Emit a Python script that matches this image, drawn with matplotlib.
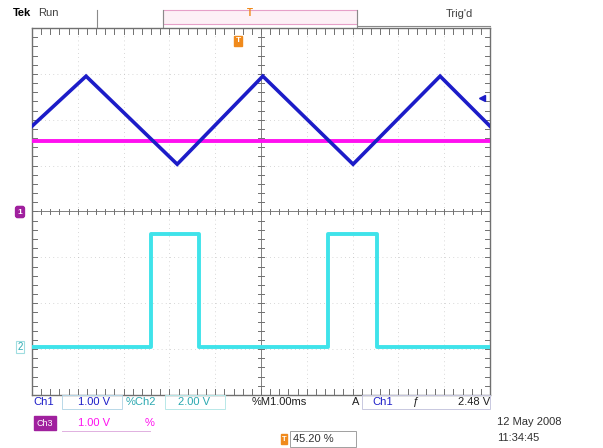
import matplotlib
matplotlib.use("Agg")
import matplotlib.pyplot as plt
from matplotlib.patches import Rectangle

plt.rcParams['font.family'] = ['Liberation Sans', 'DejaVu Sans']

# scope traces, in graticule divisions (x: 1 ms/div, y: divisions)
ch1_t = [-5.0, -3.82, -1.83, 0.04, 2.01, 3.91, 5.0]
ch1_v = [1.86, 2.95, 1.03, 2.95, 1.03, 2.95, 1.86]

ref_t = [-5.0, 5.0]
ref_v = [1.53, 1.53]

ch2_t = [-5.0, -2.40, -1.35, 1.46, 2.53, 5.0]
ch2_v = [-2.95, -0.49, -2.95, -0.49, -2.95, -2.95]

ch1_gnd = 0.0
ch2_gnd = -2.95
trig_level = 2.47
trig_pos = -0.5

BLUE = "#1c1cc8"
MAG = "#ff10f0"
CYAN = "#3fe3ea"
PURP = "#a0209e"
ORANGE = "#f08a1c"
GRID = "#a8a8a8"

W, H = 603, 448
fig = plt.figure(figsize=(W / 100, H / 100), dpi=100)
fig.patch.set_facecolor("white")


def fx(px):
    return px / W


def fy(py):
    return 1 - py / H


ax = fig.add_axes([fx(32), fy(395), fx(490) - fx(32), fy(28) - fy(395)])
ax.set_xlim(-5, 5)
ax.set_ylim(-4, 4)
ax.set_xticks([])
ax.set_yticks([])
for s in ax.spines.values():
    s.set_color("#707070")
    s.set_linewidth(1.0)

# graticule: dotted grid + minor ticks on centre lines and border
for gx in range(-4, 5):
    ax.axvline(gx, color=GRID, lw=0.6, ls=(0, (1, 4)), alpha=0.6, zorder=1)
for gy in range(-3, 4):
    ax.axhline(gy, color=GRID, lw=0.6, ls=(0, (1, 4)), alpha=0.6, zorder=1)
ax.axvline(ch1_gnd, color="#808080", lw=0.7, zorder=1)
ax.axhline(ch1_gnd, color="#808080", lw=0.7, zorder=1)
for i in range(-25, 26):
    t = i / 5
    ax.plot([t, t], [-0.06, 0.06], color="#707070", lw=0.7, zorder=1)
    ax.plot([t, t], [-4, -3.88], color="#707070", lw=0.7, zorder=1)
    ax.plot([t, t], [4, 3.88], color="#707070", lw=0.7, zorder=1)
for i in range(-20, 21):
    t = i / 5
    ax.plot([-0.06, 0.06], [t, t], color="#707070", lw=0.7, zorder=1)
    ax.plot([-5, -4.88], [t, t], color="#707070", lw=0.7, zorder=1)
    ax.plot([5, 4.88], [t, t], color="#707070", lw=0.7, zorder=1)

ax.plot(ch1_t, ch1_v, color=BLUE, lw=2.6, solid_joinstyle="miter", zorder=4)
ax.plot(ref_t, ref_v, color=MAG, lw=2.8, zorder=3)
ax.plot(ch2_t, ch2_v, color=CYAN, lw=2.8, drawstyle="steps-post", zorder=3)

# trigger level arrow on the right, trigger position marker on top
ax.plot([4.82], [trig_level], marker="<", color=BLUE, ms=4, zorder=5)
ax.text(trig_pos, 3.72, "T", color="white", fontsize=6, fontweight="bold",
        ha="center", va="center", zorder=6,
        bbox=dict(boxstyle="square,pad=0.15", fc=ORANGE, ec=ORANGE))

# channel ground markers on the left
fig.text(fx(20), fy(212), "1", color="white", fontsize=6, fontweight="bold",
         ha="center", va="center",
         bbox=dict(boxstyle="round,pad=0.25", fc=PURP, ec=PURP))
fig.text(fx(20), fy(347), "2", color="#2aa8b0", fontsize=7,
         ha="center", va="center",
         bbox=dict(boxstyle="square,pad=0.15", fc="white", ec="#a0dde0", lw=0.8))

# header
fig.text(fx(13), fy(13), "Tek", fontsize=8, fontweight="bold", va="center")
fig.text(fx(38), fy(13), "Run", fontsize=8, color="#404040", va="center")
line_kw = dict(color="#8a8a8a", lw=0.8)
fig.add_artist(plt.Line2D([fx(97), fx(97)], [fy(10), fy(27)], **line_kw))
fig.add_artist(plt.Line2D([fx(163), fx(163)], [fy(10), fy(27)], **line_kw))
fig.add_artist(plt.Line2D([fx(357), fx(357)], [fy(10), fy(27)], **line_kw))
fig.add_artist(Rectangle((fx(163), fy(24)), fx(357) - fx(163), fy(10) - fy(24),
                         fc="#fdf0f6", ec="#e6a0c8", lw=0.8))
fig.add_artist(plt.Line2D([fx(357), fx(490)], [fy(26), fy(26)], **line_kw))
fig.text(fx(250), fy(13), "T", color=ORANGE, fontsize=7, fontweight="bold",
         ha="center", va="center")
fig.text(fx(473), fy(14), "Trig'd", fontsize=8, color="#404040",
         ha="right", va="center")

# readout
fs = 8
row1 = 402
fig.text(fx(33), fy(row1), "Ch1", color=BLUE, fontsize=fs, va="center")
fig.text(fx(78), fy(row1), "1.00 V", color=BLUE, fontsize=fs, va="center")
fig.text(fx(126), fy(row1), "%Ch2", color="#2aa8b0", fontsize=fs, va="center")
fig.text(fx(178), fy(row1), "2.00 V", color="#2aa8b0", fontsize=fs, va="center")
fig.text(fx(252), fy(row1), "%M1.00ms", color="#202020", fontsize=fs, va="center")
fig.text(fx(352), fy(row1), "A", color="#202020", fontsize=fs, va="center")
fig.text(fx(372), fy(row1), "Ch1", color=BLUE, fontsize=fs, va="center")
fig.text(fx(413), fy(row1), "\u0192", color="#202020", fontsize=fs, va="center")
fig.text(fx(490), fy(row1), "2.48 V", color="#202020", fontsize=fs,
         ha="right", va="center")
for x0, x1, c in [(62, 122, "#b8d8e8"), (165, 225, "#b8e8e8"), (362, 490, "#c8c8e0")]:
    fig.add_artist(Rectangle((fx(x0), fy(409)), fx(x1) - fx(x0), fy(395) - fy(409),
                             fill=False, ec=c, lw=0.7))

row2 = 423
fig.text(fx(45), fy(row2), "Ch3", color="white", fontsize=6.5, ha="center",
         va="center", bbox=dict(boxstyle="square,pad=0.25", fc=PURP, ec=PURP))
fig.text(fx(78), fy(row2), "1.00 V", color=MAG, fontsize=fs, va="center")
fig.text(fx(145), fy(row2), "%", color=MAG, fontsize=fs, va="center")
fig.add_artist(plt.Line2D([fx(62), fx(150)], [fy(431), fy(431)], color="#e0b0e0", lw=0.7))

fig.text(fx(284), fy(439), "T", color="white", fontsize=5.5, fontweight="bold",
         ha="center", va="center",
         bbox=dict(boxstyle="square,pad=0.15", fc=ORANGE, ec=ORANGE))
fig.text(fx(293), fy(439), "45.20 %", color="#303030", fontsize=fs, va="center")
fig.add_artist(Rectangle((fx(290), fy(447)), fx(356) - fx(290), fy(431) - fy(447),
                         fill=False, ec="#a0a0a0", lw=0.7))

fig.text(fx(497), fy(422), "12 May 2008", color="#303030", fontsize=8, va="center")
fig.text(fx(497), fy(438), "11:34:45", color="#303030", fontsize=8, va="center")

fig.savefig("out.png", dpi=100)
